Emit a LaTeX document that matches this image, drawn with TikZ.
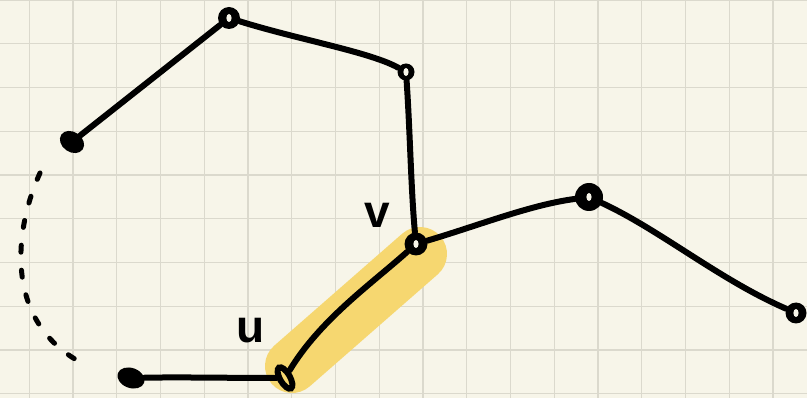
\documentclass[tikz,border=0pt]{standalone}
\usepackage{fontspec}
\setmainfont{Liberation Sans}
\usetikzlibrary{shapes.geometric}
\definecolor{paper}{RGB}{247,245,233}
\definecolor{gridc}{RGB}{219,217,205}
\definecolor{hilite}{RGB}{246,215,112}
\begin{document}
\begin{tikzpicture}[x=1pt,y=-1pt,
  edge/.style={line width=6pt,line cap=round,line join=round,black},
  ring/.style={circle,fill=black,inner sep=0pt,minimum size=#1,
    path picture={\fill[paper] (path picture bounding box.center) ellipse (2.6pt and 4pt);}},
  dotnode/.style={ellipse,fill=black,inner sep=0pt,minimum width=#1,minimum height=20pt},
  lbl/.style={font=\fontsize{46}{46}\selectfont\bfseries,inner sep=0pt}]
\useasboundingbox (0,0) rectangle (807,398);
\fill[paper] (0,0) rectangle (807,398);
\foreach \i in {0,...,17} {\draw[gridc,line width=1.2pt] ({29.3+43.75*\i},0) -- ({29.3+43.75*\i},398);}
\foreach \j in {0,...,9} {\draw[gridc,line width=1.2pt] (0,{43.75*\j}) -- (807,{43.75*\j});}
% highlight
\coordinate (h1) at (292,366);
\coordinate (h2) at (420,254);
\draw[hilite,line width=54pt,line cap=round] (h1) -- (h2);
% nodes
\node[dotnode=26pt,rotate=-35] (A) at (72,142) {};
\node[ring=22pt] (B) at (229,18) {};
\node[ring=17pt] (C) at (406,72) {};
\node[ring=23pt] (V) at (416,244) {};
\node[ring=28pt] (D) at (589,197) {};
\node[ring=21pt] (E) at (796,313) {};
\node[ellipse,draw=black,line width=6pt,inner sep=0pt,minimum width=10pt,minimum height=24pt,rotate=30] (U) at (285,378) {};
\node[dotnode=28pt,rotate=-20] (F) at (131,378) {};
% edges
\draw[edge] (A) -- (B);
\draw[edge] (B) .. controls (300,40) and (370,52) .. (C);
\draw[edge] (C) .. controls (410,130) and (411,190) .. (V);
\draw[edge] (V) .. controls (480,225) and (530,205) .. (D);
\draw[edge] (D) .. controls (660,230) and (720,280) .. (E);
\draw[edge] (V) .. controls (370,285) and (320,320) .. (U);
\draw[edge] (U) .. controls (230,378) and (180,377) .. (F);
% dashed path
\coordinate (d1) at (40,173);
\coordinate (d2) at (80,362);
\draw[line width=5pt,line cap=round,dash pattern=on 7pt off 18pt,dash phase=0pt]
  (d1) .. controls (14,230) and (4,320) .. (d2);
% labels
\node[lbl] (lv) at (377,215) {v};
\node[lbl] (lu) at (251,331) {u};
\end{tikzpicture}
\end{document}
